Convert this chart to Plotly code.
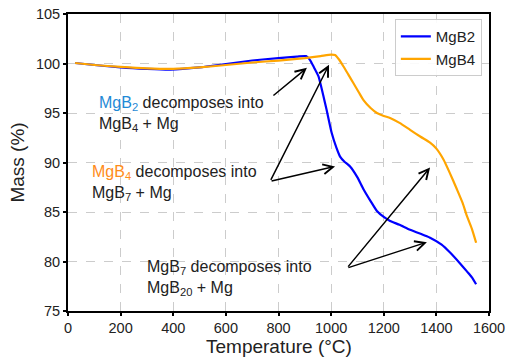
import plotly.graph_objects as go

# MgB2 TGA curve
temp_mgb2 = [27, 100, 200, 300, 388, 500, 600, 700, 800, 870, 905, 920, 935, 952, 970, 983, 1002,
             1020, 1034, 1050, 1072, 1100, 1123, 1150, 1174, 1200, 1224, 1260, 1300, 1340, 1376,
             1420, 1452, 1490, 1516, 1535, 1551]
mass_mgb2 = [100.05, 99.85, 99.6, 99.45, 99.38, 99.6, 99.95, 100.3, 100.55, 100.7, 100.75, 100.35,
             99.6, 98.7, 96.8, 95.3, 93.0, 91.5, 90.6, 90.1, 89.6, 88.5, 87.3, 86.1, 85.1, 84.5,
             84.1, 83.7, 83.2, 82.8, 82.4, 81.7, 80.9, 79.8, 79.0, 78.4, 77.7]

# MgB4 TGA curve
temp_mgb4 = [27, 100, 200, 300, 400, 500, 600, 700, 800, 900, 960, 1000, 1015, 1030, 1047, 1065,
             1085, 1105, 1123, 1150, 1174, 1200, 1224, 1260, 1300, 1340, 1376, 1400, 1427, 1450,
             1478, 1500, 1516, 1535, 1551]
mass_mgb4 = [100.05, 99.85, 99.65, 99.5, 99.45, 99.6, 99.85, 100.1, 100.3, 100.55, 100.75, 100.9,
             100.85, 100.4, 99.7, 98.9, 98.0, 97.1, 96.3, 95.5, 95.0, 94.7, 94.5, 94.0, 93.3,
             92.6, 92.0, 91.4, 90.3, 89.0, 87.3, 85.9, 84.6, 83.3, 81.9]

x_ticks = [0, 200, 400, 600, 800, 1000, 1200, 1400, 1600]
y_ticks = [75, 80, 85, 90, 95, 100, 105]

BLUE_TXT = "#1f8ad6"
ORANGE_TXT = "#ff8c1a"
FONT = "Liberation Sans, Arial, sans-serif"

fig = go.Figure()
fig.add_trace(go.Scatter(x=temp_mgb2, y=mass_mgb2, mode="lines", name="MgB2",
                         line=dict(color="#0000ff", width=2.2, shape="spline", smoothing=0.5)))
fig.add_trace(go.Scatter(x=temp_mgb4, y=mass_mgb4, mode="lines", name="MgB4",
                         line=dict(color="#ffa500", width=2.2, shape="spline", smoothing=0.5)))

font_ann = dict(family=FONT, size=16, color="#222222")

texts = [
    (110, 94.85, f"<span style='color:{BLUE_TXT}'>MgB<sub>2</sub></span> decomposes into<br>MgB<sub>4</sub> + Mg"),
    (84, 87.9, f"<span style='color:{ORANGE_TXT}'>MgB<sub>4</sub></span> decomposes into<br>MgB<sub>7</sub> + Mg"),
    (293, 78.3, "MgB<sub>7</sub> decomposes into<br>MgB<sub>20</sub> + Mg"),
]
for x, y, t in texts:
    fig.add_annotation(x=x, y=y, text=t, showarrow=False, xanchor="left", yanchor="middle",
                       align="left", font=font_ann)

arrows = [
    ((775, 96.64), (908, 99.56)),
    ((768, 88.09), (992, 99.87)),
    ((768, 88.09), (1015, 89.6)),
    ((1060, 79.33), (1364, 81.95)),
    ((1060, 79.33), (1376, 89.5)),
]
for (tx, ty), (hx, hy) in arrows:
    fig.add_annotation(x=hx, y=hy, ax=tx, ay=ty, axref="x", ayref="y", xref="x", yref="y",
                       text="", showarrow=True, arrowhead=5, arrowsize=1.3, arrowwidth=1.5,
                       arrowcolor="black")

# x-axis title placed as paper annotation for precise vertical position
fig.add_annotation(x=0.5, y=-0.12, xref="paper", yref="paper", text="Temperature (°C)",
                   showarrow=False, xanchor="center", yanchor="middle",
                   font=dict(family=FONT, size=19, color="#222"))

axis_common = dict(showline=True, linecolor="black", linewidth=2, mirror=True,
                   ticks="outside", ticklen=3, tickwidth=1.5, tickcolor="black",
                   showgrid=True, gridcolor="#cccccc", griddash="dash", gridwidth=1,
                   zeroline=False, automargin=False,
                   tickfont=dict(family=FONT, size=14.5, color="#222"),
                   title_font=dict(family=FONT, size=19, color="#222"))

fig.update_xaxes(range=[0, 1600], tickvals=x_ticks, **axis_common)
fig.update_yaxes(range=[75, 105], tickvals=y_ticks, title_text="Mass (%)",
                 title_standoff=6, **axis_common)

fig.update_layout(
    width=510, height=362,
    margin=dict(l=68, r=21, t=14, b=51),
    plot_bgcolor="white", paper_bgcolor="white",
    font=dict(family=FONT, color="#222"),
    legend=dict(x=0.983, y=0.983, xanchor="right", yanchor="top",
                bgcolor="rgba(255,255,255,0.9)", bordercolor="#cccccc", borderwidth=1,
                itemwidth=30, tracegroupgap=0,
                font=dict(family=FONT, size=15, color="#222")),
)

fig.write_html("out.html")
